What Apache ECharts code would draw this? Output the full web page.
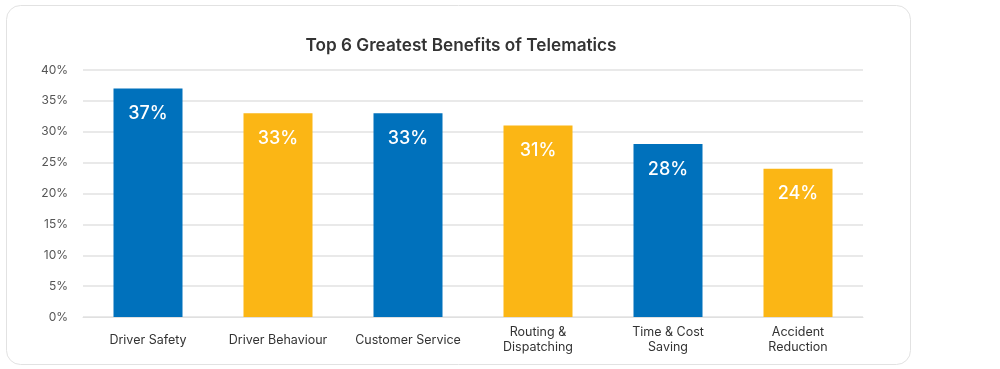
<!DOCTYPE html>
<html><head><meta charset="utf-8">
<script src="https://cdn.jsdelivr.net/npm/echarts@6/dist/echarts.min.js"></script>
<style>html,body{margin:0;padding:0;background:#fff}#c{width:1000px;height:369px}</style>
</head><body><div id="c"></div>
<script>
const categories = ["Driver Safety", "Driver Behaviour", "Customer Service", "Routing &\nDispatching", "Time & Cost\nSaving", "Accident\nReduction"];
const values = [37, 33, 33, 31, 28, 24];
const barColors = ["#0071bc", "#fbb615", "#0071bc", "#fbb615", "#0071bc", "#fbb615"];
const yTicks = [0, 5, 10, 15, 20, 25, 30, 35, 40];

const chart = echarts.init(document.getElementById('c'));
chart.setOption({
  animation: false,
  backgroundColor: '#fff',
  graphic: [{
    type: 'rect', left: 6, top: 5, z: -10,
    shape: { width: 904, height: 359, r: 14 },
    style: { fill: '#fff', stroke: '#e2e2e2', lineWidth: 1 }
  }],
  title: {
    text: 'Top 6 Greatest Benefits of Telematics',
    left: 456, top: 32, textAlign: 'center',
    textStyle: { fontFamily: 'Inter', fontSize: 17.2, fontWeight: 600, color: '#333' }
  },
  grid: { left: 83, right: 137, top: 70, bottom: 52 },
  xAxis: {
    type: 'category', data: categories,
    axisLine: { lineStyle: { color: '#e0e0e0', width: 1 } },
    axisTick: { show: false },
    axisLabel: { color: '#333', fontFamily: 'Inter', fontSize: 12.5, margin: 23, lineHeight: 15, verticalAlign: 'middle', interval: 0 }
  },
  yAxis: {
    type: 'value', min: yTicks[0], max: yTicks[yTicks.length - 1], interval: 5,
    axisLabel: { formatter: v => v + '%', color: '#555', fontFamily: 'Inter', fontSize: 12, margin: 15 },
    axisLine: { show: false }, axisTick: { show: false },
    splitLine: { lineStyle: { color: '#e2e2e2', width: 1.5 } }
  },
  series: [{
    type: 'bar', barWidth: 69,
    data: values.map((v, i) => ({ value: v, itemStyle: { color: barColors[i] } })),
    label: {
      show: true, position: 'insideTop', distance: 16,
      formatter: p => p.value + '%',
      color: '#fff', fontFamily: 'Inter', fontSize: 18, fontWeight: 500
    }
  }]
});
</script></body></html>
